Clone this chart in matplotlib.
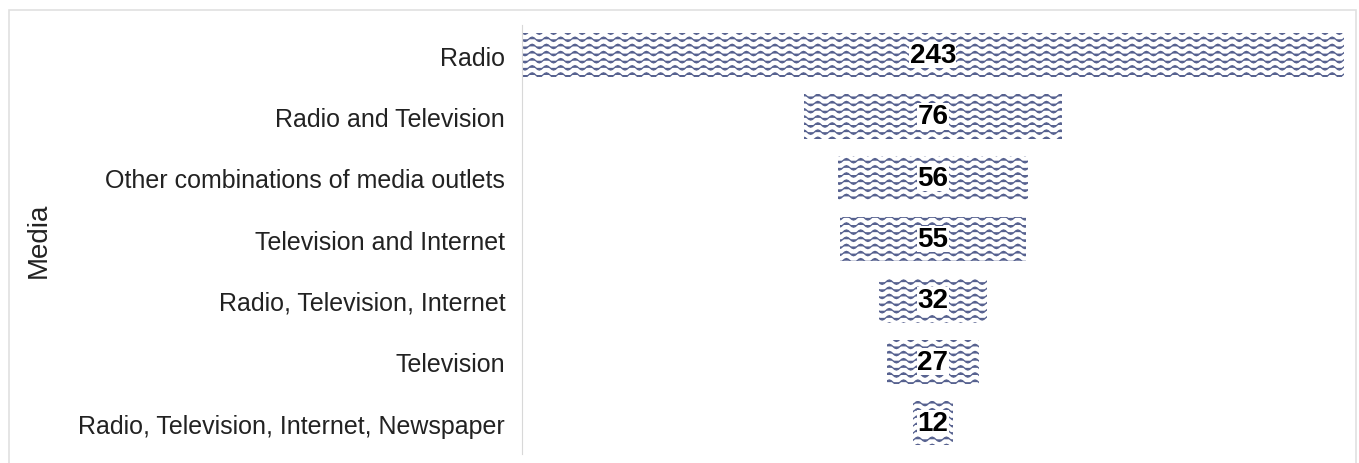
import numpy as np
import matplotlib
matplotlib.use("Agg")
import matplotlib.pyplot as plt
from matplotlib import hatch as mhatch
from matplotlib.path import Path
from matplotlib.patches import Rectangle

# Data
categories = [
    "Radio",
    "Radio and Television",
    "Other combinations of media outlets",
    "Television and Internet",
    "Radio, Television, Internet",
    "Television",
    "Radio, Television, Internet, Newspaper",
]
counts = [243, 76, 56, 55, 32, 27, 12]


# Wavy hatch pattern ("~")
class WaveHatch(mhatch.HatchPatternBase):
    periods = 7
    amp = 0.022

    def __init__(self, hatch, density):
        self.num_rows = hatch.count("~") * 7
        self.pts = 8 * self.periods + 1
        self.num_vertices = self.num_rows * self.pts

    def set_vertices_and_codes(self, vertices, codes):
        xs = np.linspace(0, 1, self.pts)
        wiggle = self.amp * np.sin(2 * np.pi * self.periods * xs)
        k = 0
        for i in range(self.num_rows):
            y0 = (i + 0.5) / self.num_rows
            vertices[k:k + self.pts, 0] = xs
            vertices[k:k + self.pts, 1] = y0 + wiggle
            codes[k] = Path.MOVETO
            codes[k + 1:k + self.pts] = Path.LINETO
            k += self.pts


mhatch._hatch_types.append(WaveHatch)
mhatch._validate_hatch_pattern = lambda h: None

plt.rcParams["font.family"] = ["Liberation Sans", "DejaVu Sans"]
plt.rcParams["hatch.linewidth"] = 0.9

fig = plt.figure(figsize=(13.59, 4.64), dpi=100)
ax = fig.add_axes([0.384, 0.02, 0.605, 0.925])

vals = np.array(counts)
y = np.arange(len(categories))
bars = ax.barh(y, vals, left=-vals / 2, height=0.72, color="white",
               edgecolor="#56618f", linewidth=0, hatch="~~")
ax.bar_label(bars, labels=[str(v) for v in counts], label_type="center",
             fontsize=20, fontweight="bold", color="black",
             bbox=dict(facecolor="white", edgecolor="none", pad=0.2))

ax.set_yticks(y)
ax.set_yticklabels(categories, fontsize=18, color="#222222")
ax.set_ylim(len(categories) - 0.5, -0.5)
ax.set_xlim(-vals.max() / 2, vals.max() / 2)
ax.set_xticks([])
ax.tick_params(axis="y", length=0, pad=12)
for s in ["top", "right", "bottom"]:
    ax.spines[s].set_visible(False)
ax.spines["left"].set_color("#d8d8d8")
ax.set_ylabel("Media", fontsize=20, color="#222222")
ax.yaxis.set_label_coords(-0.572, 0.5)

# light frame around the chart
fig.patches.append(Rectangle((0.0066, -0.1), 0.9912, 1.077, transform=fig.transFigure,
                             fill=False, edgecolor="#e0e0e0", linewidth=1.2))

fig.savefig("out.png", dpi=100)
